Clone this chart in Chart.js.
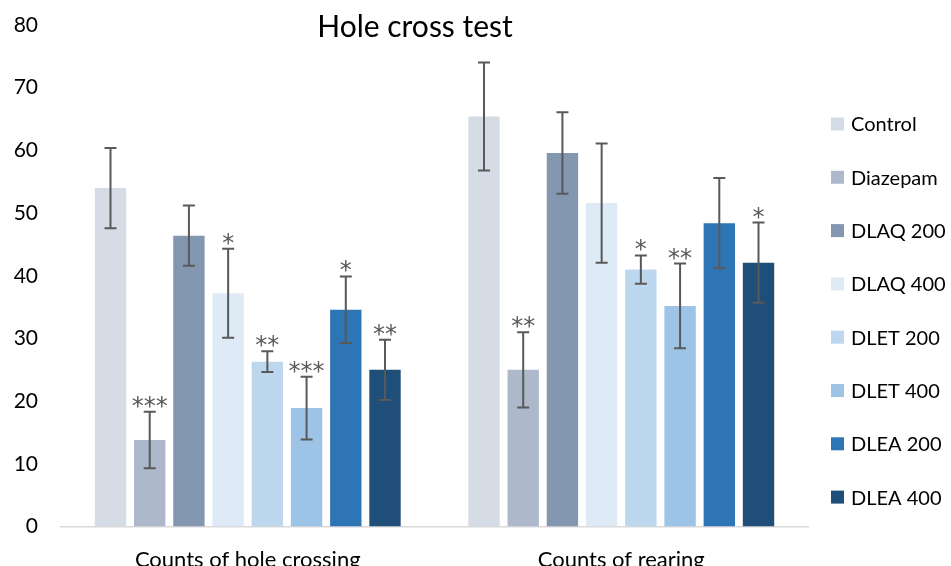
<!DOCTYPE html>
<html>
<head>
<meta charset="utf-8">
<script src="https://cdn.jsdelivr.net/npm/chart.js@4"></script>
<style>
  html, body { margin: 0; padding: 0; background: #fff; overflow: hidden; }
  #wrap { width: 951px; height: 593px; }
</style>
</head>
<body>
<div id="wrap"><canvas id="myChart"></canvas></div>
<script>
//data
const categories = ['Counts of hole crossing', 'Counts of rearing'];
const yTicks = [0, 10, 20, 30, 40, 50, 60, 70, 80];

const controlMean = [54.0, 65.4];
const controlErr = [6.4, 8.6];
const controlSig = ['', ''];

const diazepamMean = [13.8, 25.0];
const diazepamErr = [4.5, 6.0];
const diazepamSig = ['***', '**'];

const dlaq200Mean = [46.4, 59.6];
const dlaq200Err = [4.8, 6.5];
const dlaq200Sig = ['', ''];

const dlaq400Mean = [37.2, 51.6];
const dlaq400Err = [7.1, 9.5];
const dlaq400Sig = ['*', ''];

const dlet200Mean = [26.3, 41.0];
const dlet200Err = [1.65, 2.25];
const dlet200Sig = ['**', '*'];

const dlet400Mean = [18.9, 35.2];
const dlet400Err = [5.0, 6.75];
const dlet400Sig = ['***', '**'];

const dlea200Mean = [34.6, 48.4];
const dlea200Err = [5.3, 7.2];
const dlea200Sig = ['*', ''];

const dlea400Mean = [25.0, 42.1];
const dlea400Err = [4.8, 6.4];
const dlea400Sig = ['**', '*'];

const font = 'Lato, "Open Sans", sans-serif';

const series = [
  { label: 'Control', data: controlMean, err: controlErr, sig: controlSig, color: '#D6DCE5' },
  { label: 'Diazepam', data: diazepamMean, err: diazepamErr, sig: diazepamSig, color: '#ADB9CA' },
  { label: 'DLAQ 200', data: dlaq200Mean, err: dlaq200Err, sig: dlaq200Sig, color: '#8497B0' },
  { label: 'DLAQ 400', data: dlaq400Mean, err: dlaq400Err, sig: dlaq400Sig, color: '#DEEBF7' },
  { label: 'DLET 200', data: dlet200Mean, err: dlet200Err, sig: dlet200Sig, color: '#BDD7EE' },
  { label: 'DLET 400', data: dlet400Mean, err: dlet400Err, sig: dlet400Sig, color: '#9DC3E6' },
  { label: 'DLEA 200', data: dlea200Mean, err: dlea200Err, sig: dlea200Sig, color: '#2E75B6' },
  { label: 'DLEA 400', data: dlea400Mean, err: dlea400Err, sig: dlea400Sig, color: '#1F4E79' }
];

//error bars + stars
const errorBars = {
  id: 'errorBars',
  afterDatasetsDraw(chart) {
    const ctx = chart.ctx;
    const y = chart.scales.y;
    ctx.save();
    chart.data.datasets.forEach((ds, i) => {
      const meta = chart.getDatasetMeta(i);
      if (meta.hidden) return;
      meta.data.forEach((bar, j) => {
        const top = y.getPixelForValue(ds.data[j] + ds.err[j]);
        const bot = y.getPixelForValue(ds.data[j] - ds.err[j]);
        ctx.strokeStyle = '#595959';
        ctx.lineWidth = 2;
        ctx.beginPath();
        ctx.moveTo(bar.x, top);
        ctx.lineTo(bar.x, bot);
        ctx.moveTo(bar.x - 6, top);
        ctx.lineTo(bar.x + 6, top);
        ctx.moveTo(bar.x - 6, bot);
        ctx.lineTo(bar.x + 6, bot);
        ctx.stroke();
        if (ds.sig[j]) {
          ctx.fillStyle = '#595959';
          ctx.font = '24px "DejaVu Sans"';
          ctx.textAlign = 'center';
          ctx.textBaseline = 'alphabetic';
          ctx.fillText(ds.sig[j], bar.x, top + 2);
        }
      });
    });
    ctx.restore();
  }
};

//title + legend on the right
const chartTitle = {
  id: 'chartTitle',
  afterDraw(chart) {
    const ctx = chart.ctx;
    ctx.save();
    ctx.fillStyle = '#000';
    ctx.font = '30px ' + font;
    ctx.textAlign = 'center';
    ctx.textBaseline = 'middle';
    ctx.fillText('Hole cross test', 415, 27);

    ctx.font = '20px ' + font;
    ctx.textAlign = 'left';
    chart.data.datasets.forEach((ds, i) => {
      const cy = 124 + i * 53.3;
      ctx.fillStyle = ds.backgroundColor;
      ctx.fillRect(831, cy - 6.5, 13, 13);
      ctx.fillStyle = '#000';
      ctx.fillText(ds.label, 851, cy + 1);
    });
    ctx.restore();
  }
};

const ctx = document.getElementById('myChart').getContext('2d');
window.myChart = new Chart(ctx, {
  type: 'bar',
  data: {
    labels: categories,
    datasets: series.map(s => ({
      label: s.label,
      data: s.data,
      err: s.err,
      sig: s.sig,
      backgroundColor: s.color,
      borderWidth: 0,
      barPercentage: 0.8,
      categoryPercentage: 0.84
    }))
  },
  options: {
    responsive: true,
    maintainAspectRatio: false,
    animation: false,
    layout: {
      padding: { top: 25, left: 0, right: 143, bottom: 0 }
    },
    plugins: {
      title: { display: false },
      tooltip: { enabled: false },
      legend: { display: false }
    },
    scales: {
      x: {
        grid: { display: false, drawTicks: false },
        border: { display: true, color: '#D9D9D9', width: 1.5 },
        ticks: {
          color: '#000',
          padding: 20,
          font: { family: font, size: 22 }
        }
      },
      y: {
        min: 0,
        max: 80,
        afterBuildTicks: axis => { axis.ticks = yTicks.map(v => ({ value: v })); },
        afterFit: axis => {
          axis.width = 61;
          axis.paddingTop = 0;
          axis.paddingBottom = 0;
        },
        grid: { display: false, drawTicks: false },
        border: { display: false },
        ticks: {
          color: '#000',
          padding: 23,
          font: { family: font, size: 21 }
        }
      }
    }
  },
  plugins: [errorBars, chartTitle]
});
</script>
</body>
</html>
